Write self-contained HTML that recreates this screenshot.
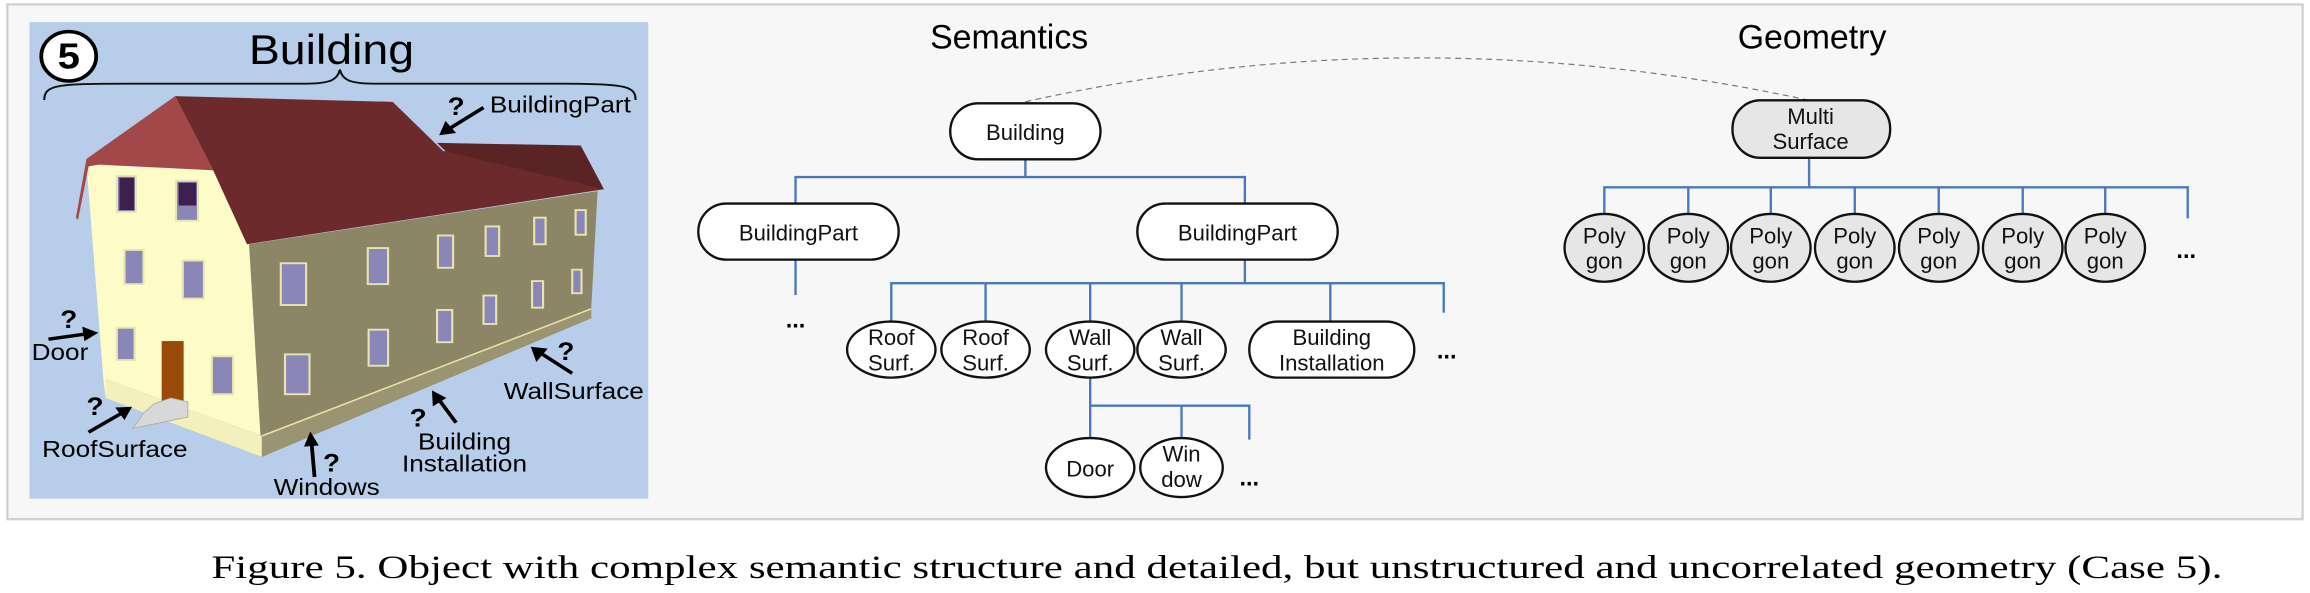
<!DOCTYPE html>
<html><head><meta charset="utf-8"><style>
html,body{margin:0;padding:0;background:#fff;}
svg{display:block;}
text{font-family:"Liberation Sans",Arial,sans-serif;}
</style></head><body>
<svg width="2310" height="593" viewBox="0 0 1568 402" preserveAspectRatio="none" xmlns="http://www.w3.org/2000/svg">
<rect x="0" y="0" width="1568" height="402" fill="#fff"/>
<rect x="5" y="3" width="1558" height="349" fill="#f7f7f7" stroke="#cfcfcf" stroke-width="1.5"/>
<rect x="20" y="15" width="420" height="323" fill="#b8cde9"/>
<g transform="translate(20 15) scale(0.2867 0.2574) translate(-65 -60)">
  <polygon points="200,435 500,450 585,645 615,1205 245,1050 240,1000" fill="#fdfbc8"/>
  <polygon points="585,645 1410,505 1395,815 1395,840 615,1205" fill="#8c8566"/>
  <polygon points="245,1000 615,1150 1395,815 1395,840 615,1205 245,1050" fill="#9b9472"/>
  <polygon points="245,1000 615,1150 615,1205 245,1050" fill="#f3f0bb"/>
  <line x1="615" y1="1150" x2="1395" y2="815" stroke="#e8e3a8" stroke-width="4"/>
  <polygon points="410,255 925,270 1045,400 1370,385 1425,500 580,645 500,450" fill="#6c2a2d"/>
  <polygon points="1030,378 1370,385 1425,500 1050,400" fill="#5a2326"/>
  <polygon points="200,420 410,255 500,450 230,435 205,440 180,580 175,575" fill="#a24848"/>
  <g fill="#8a86b8" stroke="#e8e4b0" stroke-width="5">
   <rect x="272" y="465" width="45" height="95"/><rect x="412" y="478" width="52" height="105"/>
   <rect x="290" y="660" width="45" height="90"/><rect x="428" y="688" width="50" height="100"/>
   <rect x="272" y="865" width="42" height="85"/><rect x="497" y="940" width="50" height="100"/>
   <rect x="660" y="695" width="60" height="110"/><rect x="866" y="655" width="48" height="95"/>
   <rect x="1032" y="622" width="36" height="85"/><rect x="1145" y="598" width="32" height="78"/>
   <rect x="1260" y="575" width="27" height="70"/><rect x="1358" y="555" width="24" height="65"/>
   <rect x="670" y="935" width="58" height="105"/><rect x="868" y="870" width="46" height="95"/>
   <rect x="1030" y="818" width="36" height="85"/><rect x="1140" y="780" width="30" height="75"/>
   <rect x="1255" y="742" width="26" height="70"/><rect x="1350" y="712" width="22" height="62"/>
  </g>
  <g fill="#3e1f4d"><rect x="278" y="470" width="35" height="85"/><rect x="418" y="483" width="42" height="60"/></g>
  <rect x="378" y="900" width="52" height="160" fill="#9a4a08"/>
  <polygon points="310,1130 440,1100 440,1060 400,1050 360,1065 335,1090" fill="#d8d8d8" stroke="#aaa" stroke-width="2"/>
  <path d="M100,265 C100,225 130,222 300,222 L720,222 C780,222 795,210 800,185 C805,210 820,222 880,222 L1330,222 C1480,222 1500,230 1500,265" fill="none" stroke="#111" stroke-width="5"/>
  <circle cx="158" cy="150" r="65" fill="#fff" stroke="#000" stroke-width="9"/>
  <text x="158" y="182" font-size="95" font-weight="bold" text-anchor="middle">5</text>
  <text x="780" y="170" font-size="110" text-anchor="middle">Building</text>
  <g stroke="#000" stroke-width="9" fill="none">
   <line x1="1140" y1="285" x2="1060" y2="340"/><line x1="110" y1="895" x2="195" y2="882"/>
   <line x1="205" y1="1140" x2="280" y2="1092"/><line x1="740" y1="1258" x2="733" y2="1170"/>
   <line x1="1075" y1="1115" x2="1035" y2="1055"/><line x1="1350" y1="985" x2="1280" y2="935"/>
  </g>
  <g fill="#000">
   <polygon points="1035,358 1050,320 1075,352"/>
   <polygon points="228,878 190,862 195,900"/>
   <polygon points="308,1073 268,1075 290,1108"/>
   <polygon points="730,1138 715,1178 750,1175"/>
   <polygon points="1018,1030 1020,1072 1052,1050"/>
   <polygon points="1252,915 1265,955 1292,920"/>
  </g>
  <g font-size="66" font-weight="bold">
   <text x="1055" y="305">?</text><text x="138" y="865">?</text><text x="200" y="1095">?</text>
   <text x="760" y="1243">?</text><text x="965" y="1125">?</text><text x="1315" y="950">?</text>
  </g>
  <g font-size="62">
   <text x="1155" y="298">BuildingPart</text>
   <text x="70" y="950">Door</text>
   <text x="95" y="1205">RoofSurface</text>
   <text x="643" y="1305">Windows</text>
   <text x="1095" y="1185" text-anchor="middle">Building</text>
   <text x="1095" y="1243" text-anchor="middle">Installation</text>
   <text x="1188" y="1052">WallSurface</text>
  </g>
</g>
<text x="685" y="33" font-size="23" text-anchor="middle">Semantics</text>
<text x="1230" y="33" font-size="23" text-anchor="middle">Geometry</text>
<path d="M696,69 Q960,10 1228,68" fill="none" stroke="#777" stroke-width="0.8" stroke-dasharray="4,3"/>
<g stroke="#4a78c0" stroke-width="1.6" fill="none">
 <path d="M696,107V120M540,138V120H845V138"/>
 <path d="M540,176V200"/>
 <path d="M845,176V192M605,218V192H980V212M669,192V218M740,192V218M802,192V218M903,192V218"/>
 <path d="M740,255V275H848V298M740,275V298M802,275V298"/>
 <path d="M1228,106V127M1089,145V127H1485V148M1146,127V145M1202,127V145M1259,127V145M1316,127V145M1373,127V145M1429,127V145"/>
</g>
<g stroke="#111" stroke-width="1.6" fill="#fff">
 <rect x="645" y="70" width="102" height="38" rx="19"/>
 <rect x="474" y="138" width="136" height="38" rx="19"/>
 <rect x="772" y="138" width="136" height="38" rx="19"/>
 <ellipse cx="605" cy="237" rx="30" ry="19"/>
 <ellipse cx="669" cy="237" rx="30" ry="19"/>
 <ellipse cx="740" cy="237" rx="30" ry="19"/>
 <ellipse cx="802" cy="237" rx="30" ry="19"/>
 <rect x="848" y="218" width="112" height="38" rx="19"/>
 <ellipse cx="740" cy="317" rx="30" ry="20"/>
 <ellipse cx="802" cy="317" rx="28" ry="20"/>
</g>
<g stroke="#111" stroke-width="1.6" fill="#e6e6e6">
 <rect x="1176" y="68" width="107" height="39" rx="19"/>
 <ellipse cx="1089" cy="168" rx="27" ry="23"/><ellipse cx="1146" cy="168" rx="27" ry="23"/>
 <ellipse cx="1202" cy="168" rx="27" ry="23"/><ellipse cx="1259" cy="168" rx="27" ry="23"/>
 <ellipse cx="1316" cy="168" rx="27" ry="23"/><ellipse cx="1373" cy="168" rx="27" ry="23"/>
 <ellipse cx="1429" cy="168" rx="27" ry="23"/>
</g>
<g font-size="15" text-anchor="middle" fill="#111">
 <text x="696" y="95">Building</text>
 <text x="542" y="163">BuildingPart</text>
 <text x="840" y="163">BuildingPart</text>
 <text x="605" y="234">Roof</text><text x="605" y="251">Surf.</text>
 <text x="669" y="234">Roof</text><text x="669" y="251">Surf.</text>
 <text x="740" y="234">Wall</text><text x="740" y="251">Surf.</text>
 <text x="802" y="234">Wall</text><text x="802" y="251">Surf.</text>
 <text x="904" y="234">Building</text><text x="904" y="251">Installation</text>
 <text x="740" y="323">Door</text>
 <text x="802" y="313">Win</text><text x="802" y="330">dow</text>
 <text x="1229" y="84">Multi</text><text x="1229" y="101">Surface</text>
 <text x="1089" y="165">Poly</text><text x="1089" y="182">gon</text>
 <text x="1146" y="165">Poly</text><text x="1146" y="182">gon</text>
 <text x="1202" y="165">Poly</text><text x="1202" y="182">gon</text>
 <text x="1259" y="165">Poly</text><text x="1259" y="182">gon</text>
 <text x="1316" y="165">Poly</text><text x="1316" y="182">gon</text>
 <text x="1373" y="165">Poly</text><text x="1373" y="182">gon</text>
 <text x="1429" y="165">Poly</text><text x="1429" y="182">gon</text>
</g>
<g font-size="16" font-weight="bold" text-anchor="middle">
 <text x="540" y="222">...</text><text x="982" y="243">...</text>
 <text x="848" y="329">...</text><text x="1484" y="175">...</text>
</g>
<text x="826" y="392" font-size="22" text-anchor="middle" textLength="1365" lengthAdjust="spacingAndGlyphs" style="font-family:'Liberation Serif',serif">Figure 5. Object with complex semantic structure and detailed, but unstructured and uncorrelated geometry (Case 5).</text>
</svg>
</body></html>
